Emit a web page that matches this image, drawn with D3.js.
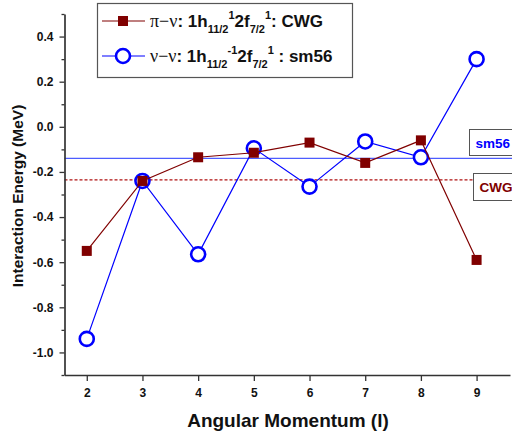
<!DOCTYPE html>
<html>
<head>
<meta charset="utf-8">
<script src="https://cdn.jsdelivr.net/npm/d3@7"></script>
<style>
  html, body { margin: 0; padding: 0; background: #fff; }
  svg { display: block; font-family: "Liberation Sans", Arial, sans-serif; }
</style>
</head>
<body>
<svg id="chart" width="512" height="436"></svg>
<script>
// Angular momentum values and interaction energies (MeV)
const angular = [2, 3, 4, 5, 6, 7, 8, 9];
const cwg  = [-0.55, -0.24, -0.135, -0.115, -0.07, -0.16, -0.06, -0.59];
const sm56 = [-0.94, -0.24, -0.565, -0.095, -0.265, -0.065, -0.135, 0.30];
// Reference levels drawn as horizontal lines
const sm56Level = -0.14;
const cwgLevel = -0.235;
// Axis ticks
const yMajor = [-1.0, -0.8, -0.6, -0.4, -0.2, 0.0, 0.2, 0.4];
const yMinor = [-1.1, -0.9, -0.7, -0.5, -0.3, -0.1, 0.1, 0.3, 0.5];
const xTicks = [2, 3, 4, 5, 6, 7, 8, 9];

const svg = d3.select("#chart");
const x = d3.scaleLinear().domain([1.6, 9.6]).range([64.5, 510]);
const y = d3.scaleLinear().domain([-1.1, 0.5]).range([375, 14]);

const red = "#800000";
const blue = "#0000ff";
const axisColor = "#333";

// Horizontal reference levels
svg.append("line")
  .attr("x1", x(1.6)).attr("x2", 512)
  .attr("y1", y(sm56Level)).attr("y2", y(sm56Level))
  .attr("stroke", "#4d5cff").attr("stroke-width", 1.4);
svg.append("line")
  .attr("x1", x(1.6)).attr("x2", 473)
  .attr("y1", y(cwgLevel)).attr("y2", y(cwgLevel))
  .attr("stroke", "#b01010").attr("stroke-width", 1.1)
  .attr("stroke-dasharray", "3,2");

// Level labels
function levelBox(x0, y0, w, h, text, color) {
  svg.append("rect").attr("x", x0).attr("y", y0).attr("width", w).attr("height", h)
    .attr("fill", "#fff").attr("stroke", "#555").attr("stroke-width", 1);
  svg.append("text").attr("x", x0 + 6).attr("y", y0 + h / 2 + 5)
    .attr("fill", color).attr("font-weight", "bold").attr("font-size", 13.5)
    .text(text);
}
levelBox(469.5, 129.5, 50, 26, "sm56", blue);
levelBox(473.5, 173.5, 50, 27, "CWG", red);

// Series
const line = d3.line().x((d, i) => x(angular[i])).y(d => y(d));

svg.append("path").datum(sm56).attr("d", line)
  .attr("fill", "none").attr("stroke", blue).attr("stroke-width", 1.2);
svg.append("g").selectAll("circle").data(sm56).join("circle")
  .attr("cx", (d, i) => x(angular[i])).attr("cy", d => y(d)).attr("r", 7)
  .attr("fill", "#fff").attr("stroke", blue).attr("stroke-width", 2.6);

svg.append("path").datum(cwg).attr("d", line)
  .attr("fill", "none").attr("stroke", red).attr("stroke-width", 1.2);
svg.append("g").selectAll("rect").data(cwg).join("rect")
  .attr("x", (d, i) => x(angular[i]) - 5).attr("y", d => y(d) - 5)
  .attr("width", 10).attr("height", 10).attr("fill", red);

// Axes
const yAxis = svg.append("g").attr("transform", `translate(${x(1.6)},0)`)
  .call(d3.axisLeft(y).tickValues(yMajor).tickSize(5).tickSizeOuter(0)
    .tickFormat(v => v.toFixed(1)));
svg.append("g").attr("transform", `translate(${x(1.6)},0)`)
  .call(d3.axisLeft(y).tickValues(yMinor).tickSize(3).tickSizeOuter(0).tickFormat(""))
  .select(".domain").remove();
const xAxis = svg.append("g").attr("transform", `translate(0,${y(-1.1)})`)
  .call(d3.axisBottom(x).tickValues(xTicks).tickSize(6).tickSizeOuter(0)
    .tickFormat(d3.format("d")));

svg.selectAll(".domain").attr("stroke", axisColor).attr("stroke-width", 1.7);
svg.selectAll(".tick line").attr("stroke", axisColor).attr("stroke-width", 1.3);
svg.selectAll(".tick text").attr("font-family", "Liberation Sans, Arial, sans-serif")
  .attr("font-size", 12).attr("font-weight", "bold").attr("fill", "#111");
yAxis.selectAll(".tick text").attr("x", -11);
xAxis.selectAll(".tick text").attr("y", 13);

// Axis titles
svg.append("text").attr("x", 288).attr("y", 427).attr("text-anchor", "middle")
  .attr("font-size", 19).attr("font-weight", "bold").attr("fill", "#111")
  .text("Angular Momentum (l)");
svg.append("text").attr("transform", "translate(23,196) rotate(-90)")
  .attr("text-anchor", "middle").attr("font-size", 15.5).attr("font-weight", "bold")
  .attr("fill", "#111").text("Interaction Energy (MeV)");

// Legend
const legend = svg.append("g");
legend.append("rect").attr("x", 97.5).attr("y", 3.5).attr("width", 255).attr("height", 74)
  .attr("fill", "#fff").attr("stroke", "#555").attr("stroke-width", 1.2);

function richText(g, x0, y0, parts) {
  const t = g.append("text").attr("x", x0).attr("y", y0)
    .attr("font-size", 17).attr("font-weight", "bold").attr("fill", "#111");
  let shift = 0;
  parts.forEach(p => {
    const target = p.kind === "sub" ? 6 : p.kind === "sup" ? -8 : 0;
    const ts = t.append("tspan").attr("dy", target - shift).text(p.t);
    shift = target;
    if (p.kind === "sub" || p.kind === "sup") ts.attr("font-size", 11);
    if (p.kind === "greek") ts.attr("font-family", "Liberation Serif, Times New Roman, serif")
      .attr("font-weight", "normal").attr("font-size", 18);
  });
}

const rows = [
  { y: 21, color: red, marker: "square",
    parts: [{ t: "π−ν", kind: "greek" }, { t: ": 1h" }, { t: "11/2", kind: "sub" }, { t: "1", kind: "sup" },
            { t: "2f" }, { t: "7/2", kind: "sub" }, { t: "1", kind: "sup" }, { t: ": CWG" }] },
  { y: 56, color: blue, marker: "circle",
    parts: [{ t: "ν−ν", kind: "greek" }, { t: ": 1h" }, { t: "11/2", kind: "sub" }, { t: "-1", kind: "sup" },
            { t: "2f" }, { t: "7/2", kind: "sub" }, { t: "1", kind: "sup" }, { t: " : sm56" }] }
];
rows.forEach(r => {
  legend.append("line").attr("x1", 102).attr("x2", 145).attr("y1", r.y).attr("y2", r.y)
    .attr("stroke", r.color).attr("stroke-width", 1.2);
  if (r.marker === "square") {
    legend.append("rect").attr("x", 118).attr("y", r.y - 5).attr("width", 10).attr("height", 10)
      .attr("fill", red);
  } else {
    legend.append("circle").attr("cx", 123).attr("cy", r.y).attr("r", 7)
      .attr("fill", "#fff").attr("stroke", blue).attr("stroke-width", 2.6);
  }
  richText(legend, 150, r.y + 6, r.parts);
});
</script>
</body>
</html>
